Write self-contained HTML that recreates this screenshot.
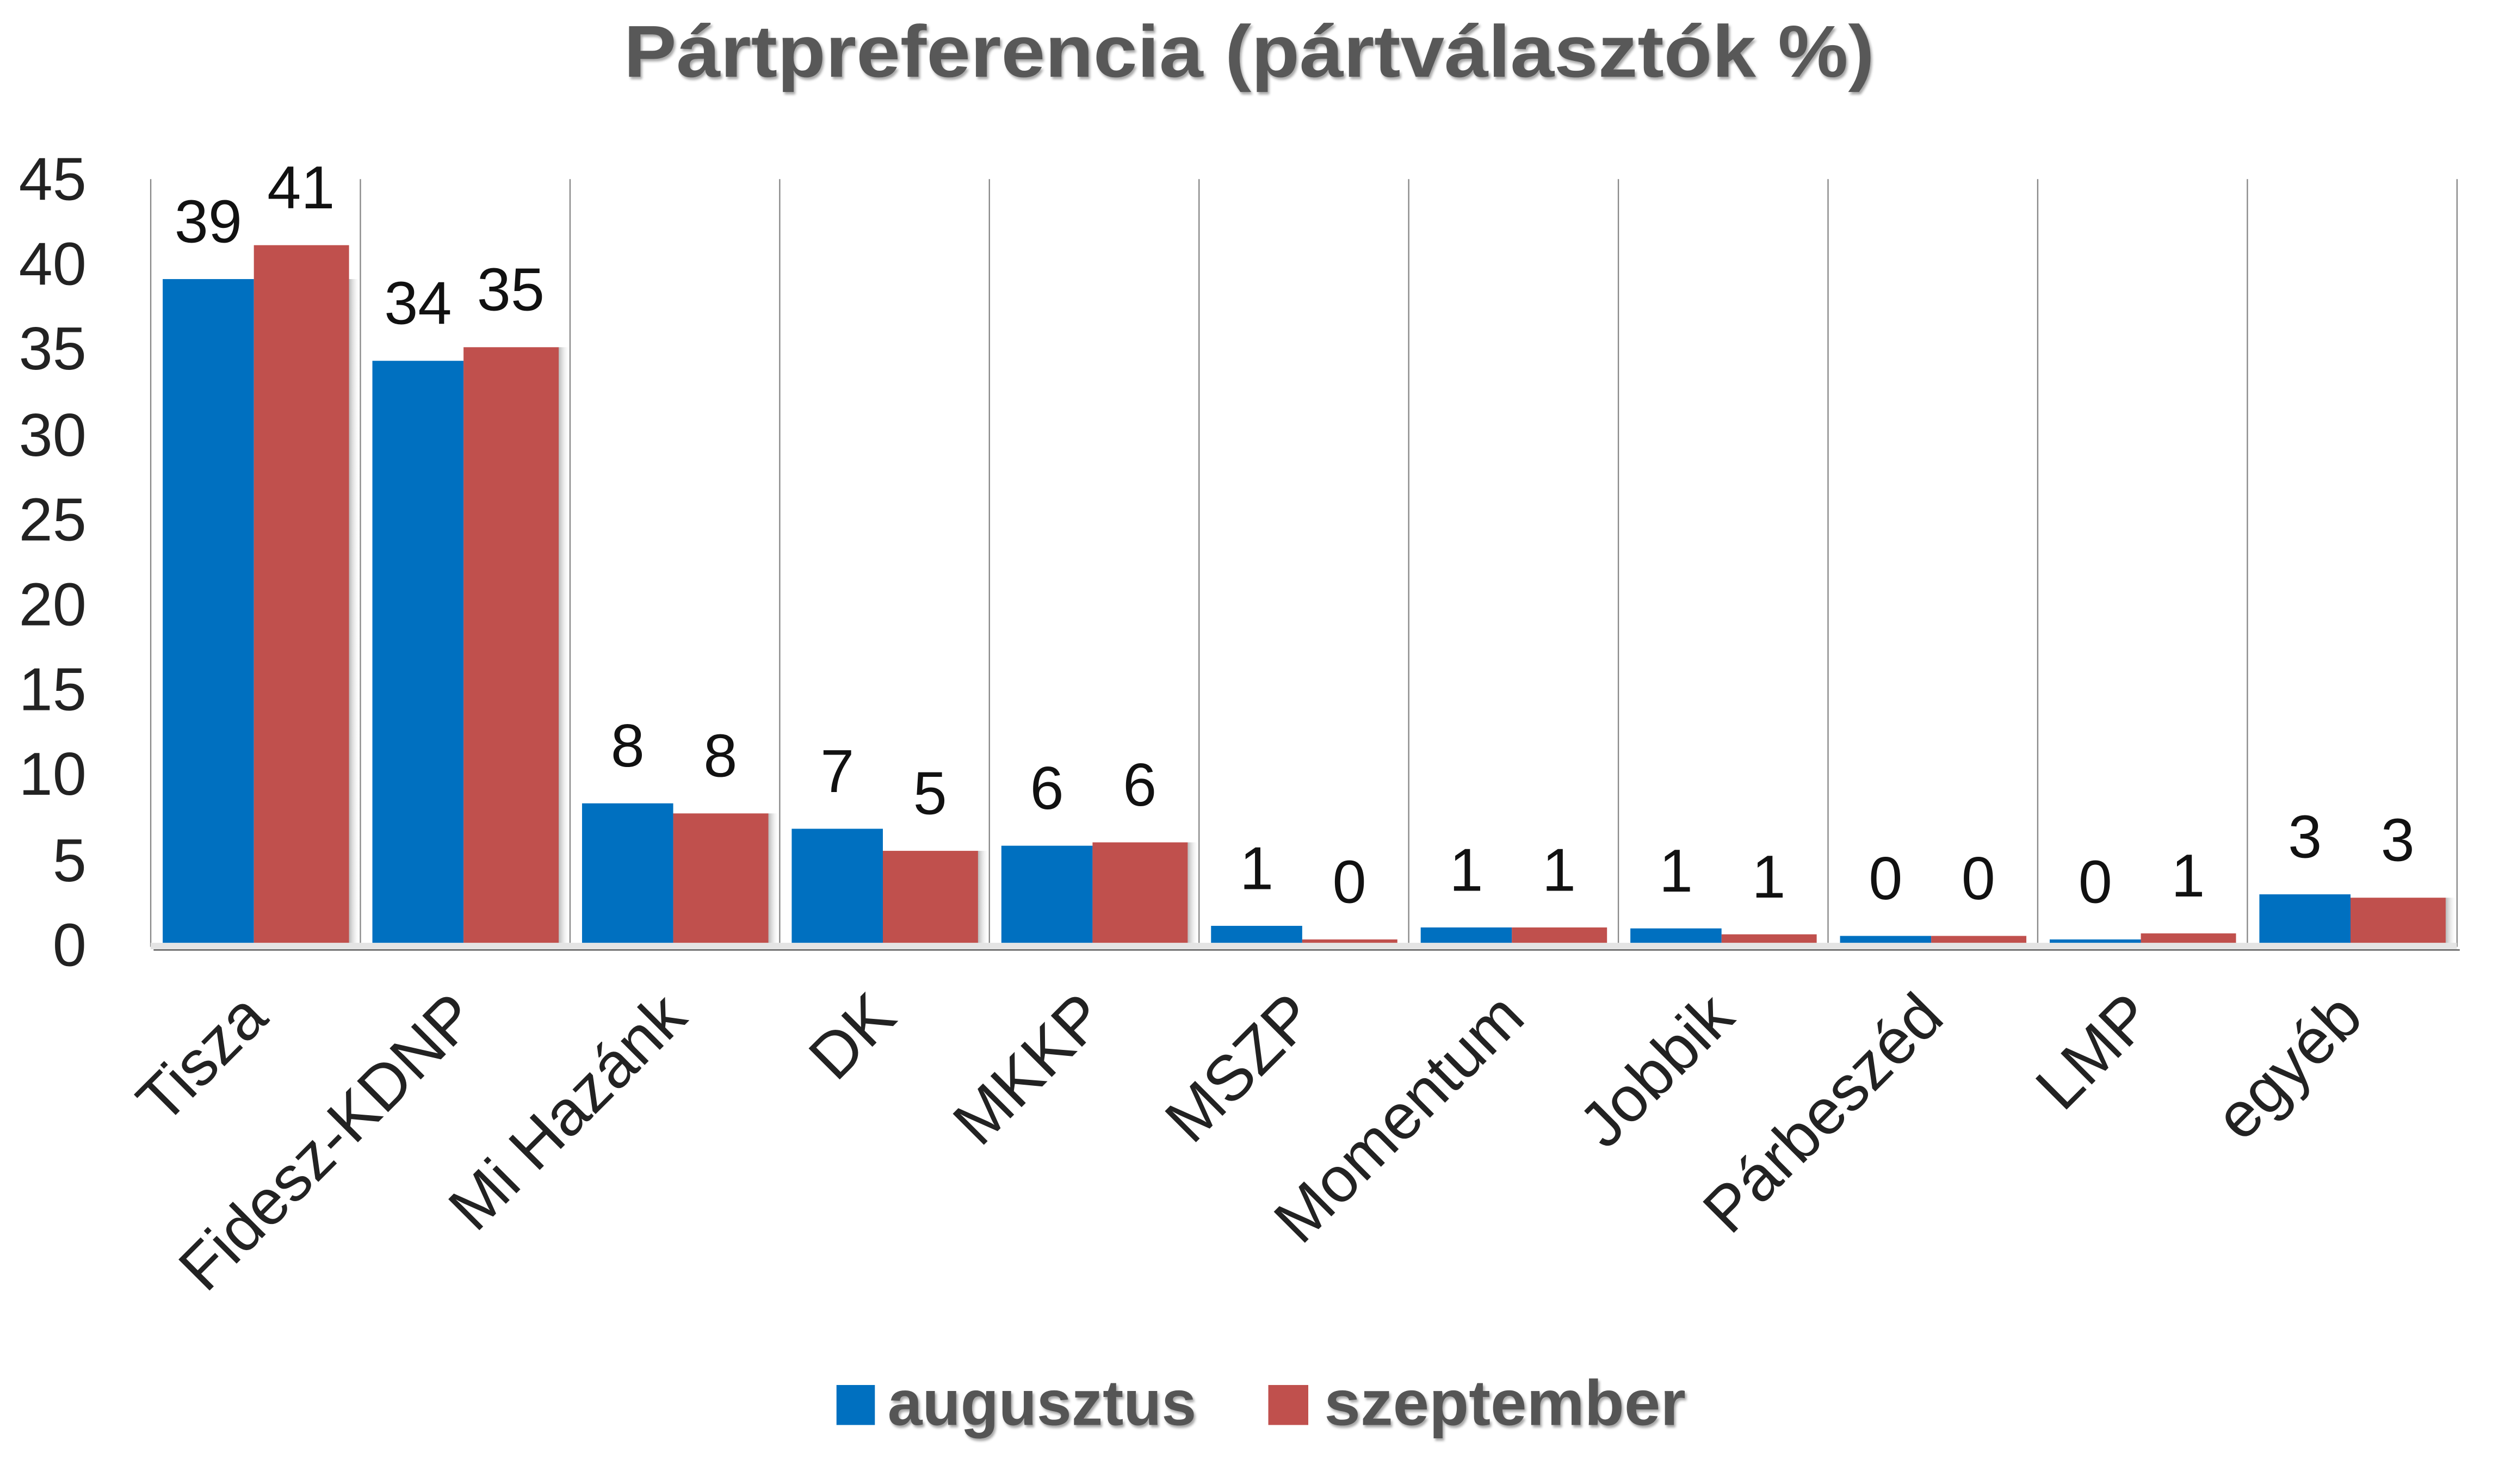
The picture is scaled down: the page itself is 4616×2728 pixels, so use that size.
<!DOCTYPE html>
<html><head><meta charset="utf-8"><style>html,body{margin:0;padding:0;background:#fff}svg{display:block}</style></head><body>
<svg xmlns="http://www.w3.org/2000/svg" width="4616" height="2728" viewBox="0 0 1570 927.9">
<defs>
<linearGradient id="sh" x1="0" x2="1" y1="0" y2="0"><stop offset="0" stop-color="#b8b8b8"/><stop offset="1" stop-color="#ffffff" stop-opacity="0"/></linearGradient>
<filter id="ts"><feDropShadow dx="1" dy="1.5" stdDeviation="0.8" flood-color="#000" flood-opacity="0.35"/></filter>
</defs>
<rect width="1570" height="927.9" fill="#fff"/>
<text x="781" y="48" text-anchor="middle" font-family="Liberation Sans, sans-serif" font-weight="bold" font-size="46" fill="#595959" textLength="782" lengthAdjust="spacingAndGlyphs" filter="url(#ts)">Pártpreferencia (pártválasztók %)</text>
<g font-family="Liberation Sans, sans-serif" font-size="38" fill="#222" text-anchor="end">
<text x="54" y="125">45</text><text x="54" y="178">40</text><text x="54" y="231">35</text><text x="54" y="285">30</text><text x="54" y="338">25</text><text x="54" y="391">20</text><text x="54" y="444">15</text><text x="54" y="497">10</text><text x="54" y="551">5</text><text x="54" y="604">0</text>
</g>
<g stroke="#888" stroke-width="0.8">
<line x1="94.2" y1="112" x2="94.2" y2="592"/><line x1="225.3" y1="112" x2="225.3" y2="592"/><line x1="356.4" y1="112" x2="356.4" y2="592"/><line x1="487.5" y1="112" x2="487.5" y2="592"/><line x1="618.6" y1="112" x2="618.6" y2="592"/><line x1="749.7" y1="112" x2="749.7" y2="592"/><line x1="880.8" y1="112" x2="880.8" y2="592"/><line x1="1011.9" y1="112" x2="1011.9" y2="592"/><line x1="1143" y1="112" x2="1143" y2="592"/><line x1="1274.1" y1="112" x2="1274.1" y2="592"/><line x1="1405.2" y1="112" x2="1405.2" y2="592"/><line x1="1536.3" y1="112" x2="1536.3" y2="592"/>
</g>
<rect x="94.2" y="589.5" width="1442" height="4" fill="#e4e4e4"/>
<line x1="96" y1="594" x2="1538" y2="594" stroke="#555" stroke-width="0.8"/>
<g>
<rect x="218.2" y="174.5" width="7" height="415" fill="url(#sh)"/>
<rect x="349.3" y="217.1" width="7" height="372.4" fill="url(#sh)"/>
<rect x="480.4" y="508.6" width="7" height="80.9" fill="url(#sh)"/>
<rect x="611.5" y="532" width="7" height="57.5" fill="url(#sh)"/>
<rect x="742.6" y="526.7" width="7" height="62.8" fill="url(#sh)"/>
<rect x="1529.2" y="561.3" width="7" height="28.2" fill="url(#sh)"/>
</g>
<g fill="#0070C0">
<rect x="101.7" y="174.5" width="57" height="415"/>
<rect x="232.8" y="225.6" width="57" height="363.9"/>
<rect x="363.9" y="502.3" width="57" height="87.2"/>
<rect x="495" y="518.2" width="57" height="71.3"/>
<rect x="626.1" y="528.8" width="57" height="60.7"/>
<rect x="757.2" y="578.9" width="57" height="10.6"/>
<rect x="888.3" y="579.9" width="57" height="9.6"/>
<rect x="1019.4" y="580.5" width="57" height="9"/>
<rect x="1150.5" y="585.2" width="57" height="4.3"/>
<rect x="1281.6" y="587.4" width="57" height="2.1"/>
<rect x="1412.7" y="559.2" width="57" height="30.3"/>
</g>
<g fill="#C0504D">
<rect x="158.7" y="153.3" width="59.5" height="436.2"/>
<rect x="289.8" y="217.1" width="59.5" height="372.4"/>
<rect x="420.9" y="508.6" width="59.5" height="80.9"/>
<rect x="552" y="532" width="59.5" height="57.5"/>
<rect x="683.1" y="526.7" width="59.5" height="62.8"/>
<rect x="814.2" y="587.4" width="59.5" height="2.1"/>
<rect x="945.3" y="579.9" width="59.5" height="9.6"/>
<rect x="1076.4" y="584.2" width="59.5" height="5.3"/>
<rect x="1207.5" y="585.2" width="59.5" height="4.3"/>
<rect x="1338.6" y="583.6" width="59.5" height="5.9"/>
<rect x="1469.7" y="561.3" width="59.5" height="28.2"/>
</g>
<g font-family="Liberation Sans, sans-serif" font-size="38" fill="#111" text-anchor="middle">
<text x="130.2" y="151.5">39</text><text x="188.2" y="130.3">41</text>
<text x="261.3" y="202.6">34</text><text x="319.3" y="194.1">35</text>
<text x="392.4" y="479.3">8</text><text x="450.4" y="485.6">8</text>
<text x="523.5" y="495.2">7</text><text x="581.5" y="509">5</text>
<text x="654.6" y="505.8">6</text><text x="712.6" y="503.7">6</text>
<text x="785.7" y="555.9">1</text><text x="843.7" y="564.4">0</text>
<text x="916.8" y="556.9">1</text><text x="974.8" y="556.9">1</text>
<text x="1047.9" y="557.5">1</text><text x="1105.9" y="561.2">1</text>
<text x="1179" y="562.2">0</text><text x="1237" y="562.2">0</text>
<text x="1310.1" y="564.4">0</text><text x="1368.1" y="560.6">1</text>
<text x="1441.2" y="536.2">3</text><text x="1499.2" y="538.3">3</text>
</g>
<g font-family="Liberation Sans, sans-serif" font-size="40" fill="#222" text-anchor="end">
<text transform="translate(169,638) rotate(-45)">Tisza</text>
<text transform="translate(300,638) rotate(-45)">Fidesz-KDNP</text>
<text transform="translate(431,638) rotate(-45)">Mi Hazánk</text>
<text transform="translate(562,638) rotate(-45)">DK</text>
<text transform="translate(693,638) rotate(-45)">MKKP</text>
<text transform="translate(824,638) rotate(-45)">MSZP</text>
<text transform="translate(955,638) rotate(-45)">Momentum</text>
<text transform="translate(1086,638) rotate(-45)">Jobbik</text>
<text transform="translate(1217,638) rotate(-45)">Párbeszéd</text>
<text transform="translate(1348,638) rotate(-45)">LMP</text>
<text transform="translate(1479,638) rotate(-45)">egyéb</text>
</g>
<rect x="523" y="866" width="24" height="25" fill="#0070C0"/>
<rect x="793" y="866" width="25" height="25" fill="#C0504D"/>
<g font-family="Liberation Sans, sans-serif" font-weight="bold" font-size="40" fill="#555" filter="url(#ts)">
<text x="555" y="891" textLength="193" lengthAdjust="spacingAndGlyphs">augusztus</text>
<text x="828" y="891" textLength="226" lengthAdjust="spacingAndGlyphs">szeptember</text>
</g>
</svg>
</body></html>
